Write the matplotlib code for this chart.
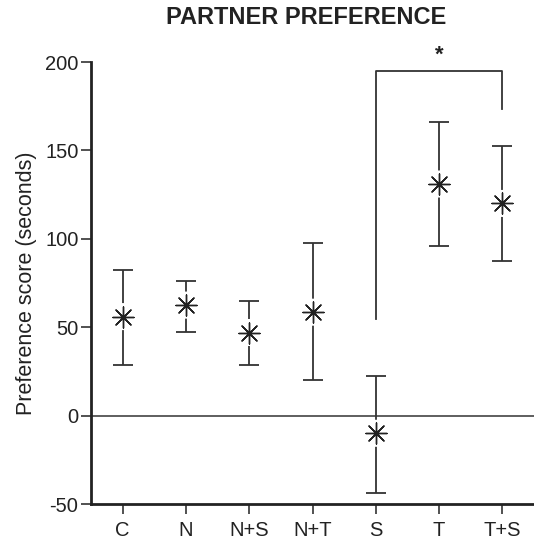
import matplotlib
matplotlib.use("Agg")
import matplotlib.pyplot as plt
import numpy as np

plt.rcParams['font.family'] = ['Liberation Sans', 'DejaVu Sans']

categories = ["C", "N", "N+S", "N+T", "S", "T", "T+S"]
means = [56, 62.5, 47, 58.5, -10, 131, 120]
upper = [82.5, 76, 65, 97.5, 22.5, 166, 152.5]
lower = [28.5, 47.5, 28.5, 20, -44, 96, 87.5]

bracket_left_bottom = 54.5
bracket_right_bottom = 173.5
bracket_top = 195
sig_label = "*"

fig = plt.figure(figsize=(5.34, 5.40), dpi=100)
ax = fig.add_axes([91/534, 36/540, 443/534, 442/540])

x = np.arange(len(categories))
means_a = np.array(means)
yerr = [means_a - np.array(lower), np.array(upper) - means_a]

ax.axhline(0, color='#333333', lw=1.1, zorder=1)
ax.errorbar(x, means, yerr=yerr, fmt='none', ecolor='#333333', elinewidth=1.3,
            capsize=7, capthick=1.3, zorder=2)
ax.scatter(x, means, s=380, marker='o', color='white', edgecolors='none', zorder=3)
ax.scatter(x, means, s=230, marker=(8, 2, 0), color='#222222', linewidths=1.0, zorder=4)
ax.scatter(x, means, s=6, marker='s', color='#222222', zorder=5)

# significance bracket
ax.plot([4, 4, 6, 6], [bracket_left_bottom, bracket_top, bracket_top, bracket_right_bottom],
        color='#333333', lw=1.3, zorder=2)
ax.text(5, bracket_top + 3, sig_label, ha='center', va='bottom', fontsize=16,
        fontweight='bold', color='#222222')

ax.set_xlim(-0.5, 6.5)
ax.set_ylim(-50, 200)
ax.set_xticks(x)
ax.set_xticklabels(categories)
ax.set_yticks([-50, 0, 50, 100, 150, 200])
ax.set_yticklabels(["-50", "0", "50", "100", "150", "200"])
ax.tick_params(axis='both', labelsize=14.5, length=7, width=1.2, color='#333333',
               labelcolor='#222222')
ax.tick_params(axis='x', pad=5)
ax.tick_params(axis='y', pad=2)
ax.spines['top'].set_visible(False)
ax.spines['right'].set_visible(False)
for s in ['left', 'bottom']:
    ax.spines[s].set_linewidth(2.0)
    ax.spines[s].set_color('#222222')
ax.set_ylabel("Preference score (seconds)", fontsize=15.5, color='#222222', labelpad=6)

fig.text(306/534, 1 - 18/540, "PARTNER PREFERENCE", ha='center', va='center',
         fontsize=17, fontweight='bold', color='#222222')

fig.savefig("out.png", dpi=100)
